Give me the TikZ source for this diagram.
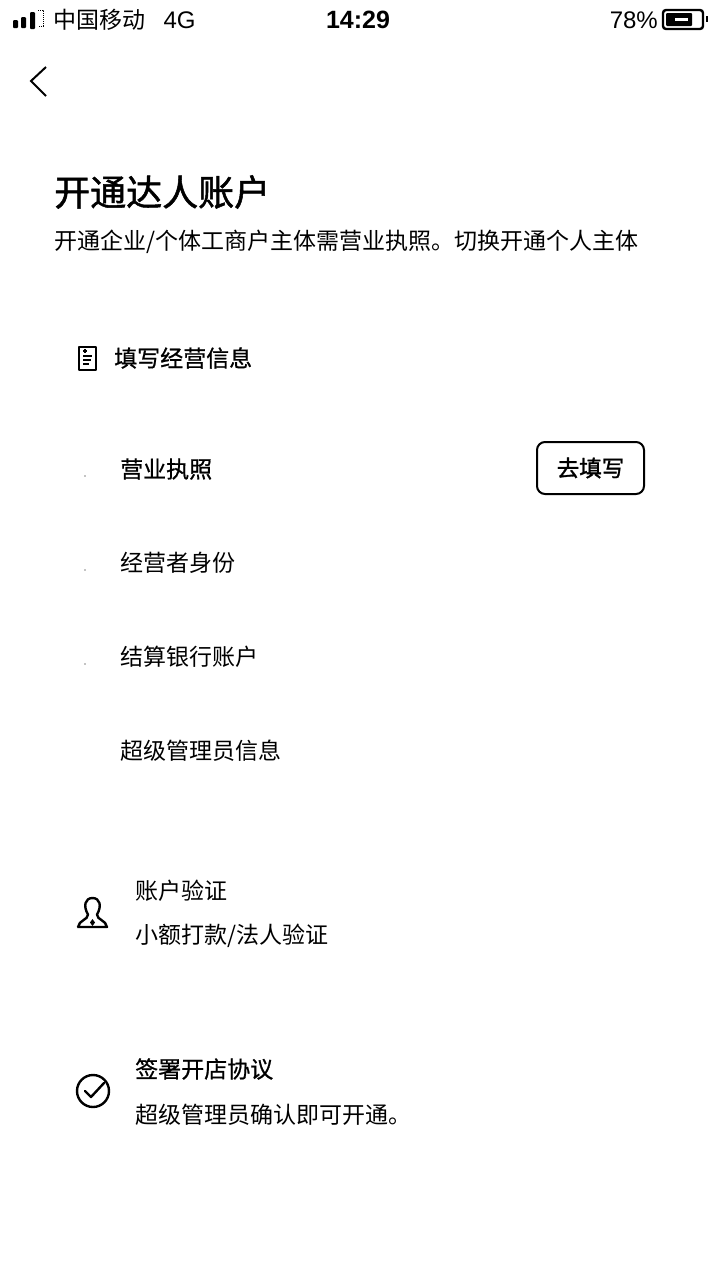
\documentclass[tikz,border=0pt]{standalone}
\usepackage{fontspec}
\setmainfont{Liberation Sans}
\newfontfamily\cjk{Noto Sans CJK SC}
\newfontfamily\cjkmed[FakeBold=0.8]{Noto Sans CJK SC}
\newfontfamily\cjkheavy[FakeBold=1.4]{Noto Sans CJK SC}
\usetikzlibrary{positioning}

\begin{document}
\begin{tikzpicture}
	[x=1pt,y=-1pt,
		every node/.style={inner sep=0pt,anchor=west,text=black},
		status/.style={font=\fontsize{24}{24}\selectfont},
		carriername/.style={font=\cjk\fontsize{23}{23}\selectfont},
		clock/.style={font=\bfseries\fontsize{25}{25}\selectfont},
		title/.style={font=\cjkheavy\fontsize{36}{36}\selectfont},
		heading/.style={font=\cjkmed\fontsize{23}{23}\selectfont},
		item/.style={font=\cjk\fontsize{23}{23}\selectfont},
		icon/.style={line width=2.4pt,line cap=round,line join=round},
		button/.style={draw,line width=2pt,rounded corners=8pt,anchor=center,
			minimum width=107pt,minimum height=52pt,font=\cjkheavy\fontsize{22.5}{22.5}\selectfont}]
	\useasboundingbox (0,0) rectangle (719,1280);
	% status bar
	\fill [rounded corners=1pt] (13,20) rectangle (18,28);
	\fill [rounded corners=1pt] (21,17) rectangle (26,28);
	\fill [rounded corners=1pt] (30,12) rectangle (35,29);
	\draw [line width=1pt,densely dotted] (38,10) -- (43,10) -- (43,26) -- (38,26);
	\node (carrier) [carriername] at (53,20) {中国移动};
	\node (network) [status,right=18pt of carrier] {4G};
	\node (time) [clock,anchor=center] at (358,20) {14:29};
	\node (percent) [status,anchor=east] at (658,20) {78\%};
	\draw [line width=2.4pt,rounded corners=3pt] (663,10) rectangle (703,29);
	\fill [rounded corners=1pt] (666,13) rectangle (692,26);
	\fill [white] (675,18) rectangle (688,21);
	\fill (706,16) rectangle (708,22);
	% back arrow
	\draw [line width=2pt] (46,67) -- (31,81) -- (46,96);
	% header
	\node (title) [title] at (54,192) {开通达人账户};
	\node (subtitle) [item] at (54,242) {开通企业/个体工商户主体需营业执照。切换开通个人主体};
	% first step
	\draw [icon] (79,347) rectangle (96,370);
	\draw [line width=2pt] (83,351) -- (87,351) (85,349) -- (85,353)
		(83,356) -- (92,356) (83,360) -- (91,360) (83,364) -- (89,364);
	\node (info) [heading] at (114,358) {填写经营信息};
	\node (licence) [heading] at (120,469) {营业执照};
	\node (operator) [item] at (120,563) {经营者身份};
	\node (bank) [item] at (120,657) {结算银行账户};
	\node (admin) [item] at (120,751) {超级管理员信息};
	\fill (85,476) circle (.7);
	\fill (85,570) circle (.7);
	\fill (85,664) circle (.7);
	\node (fill) [button] at (590.5,468) {去填写};
	% second step
	\draw [icon] (78,927) -- (107,927)
		.. controls (106,920) and (97,920) .. (97,914.5)
		.. controls (102,906) and (100,898) .. (92.5,898)
		.. controls (85,898) and (83,906) .. (88,914.5)
		.. controls (88,920) and (79,920) .. (78,927);
	\fill (92.5,919) -- (95,922.5) -- (92.5,926) -- (90,922.5) -- cycle;
	\node (verify) [item] at (135,891) {账户验证};
	\node (verifynote) [item] at (135,936) {小额打款/法人验证};
	% third step
	\draw [icon] (93,1091) circle (16);
	\draw [icon] (85,1091) -- (91,1097) -- (104,1083);
	\node (sign) [heading] at (135,1069) {签署开店协议};
	\node (signnote) [item] at (135,1115) {超级管理员确认即可开通。};
\end{tikzpicture}
\end{document}
